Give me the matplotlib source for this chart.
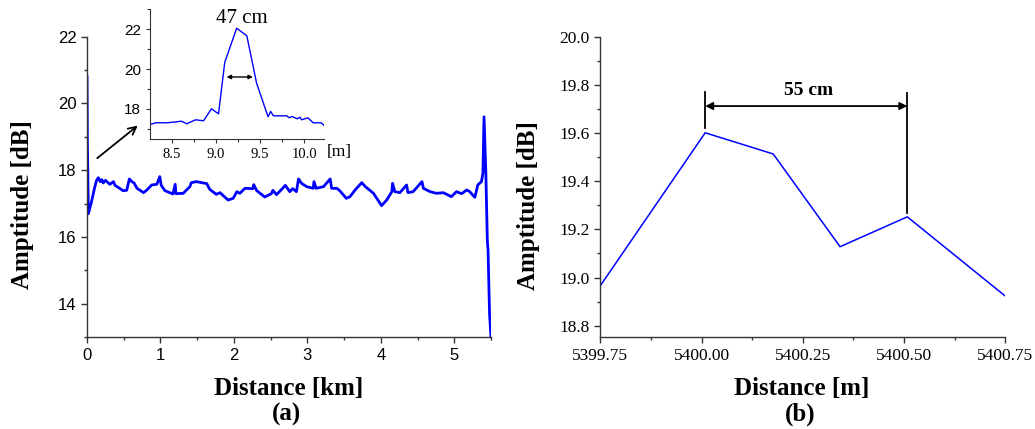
import matplotlib
matplotlib.use("Agg")
import matplotlib.pyplot as plt
from matplotlib.ticker import MultipleLocator

# ---- datos
# (a) traza completa, distancia [km] vs amplitud [dB]
dist_km = [0.000, 0.004, 0.018, 0.06, 0.10, 0.13, 0.154, 0.18, 0.20, 0.22, 0.25, 0.27, 0.31, 0.36, 0.38,
           0.43, 0.49, 0.54, 0.576, 0.61, 0.64, 0.68, 0.77, 0.81, 0.88, 0.95, 0.99, 1.01,
           1.06, 1.17, 1.20, 1.21, 1.31, 1.40, 1.42, 1.49, 1.56, 1.63, 1.67, 1.76,
           1.81, 1.92, 1.99, 2.04, 2.08, 2.15, 2.26, 2.27, 2.31, 2.42, 2.51, 2.53,
           2.58, 2.65, 2.70, 2.76, 2.80, 2.85, 2.88, 2.92, 2.99, 3.08, 3.09, 3.12,
           3.22, 3.31, 3.33, 3.40, 3.44, 3.53, 3.58, 3.65, 3.74, 3.79, 3.90, 4.01,
           4.08, 4.15, 4.16, 4.19, 4.26, 4.35, 4.37, 4.44, 4.56, 4.58, 4.67, 4.76,
           4.85, 4.96, 5.03, 5.10, 5.17, 5.21, 5.28, 5.32, 5.37, 5.39, 5.405, 5.43, 5.45,
           5.46, 5.48, 5.50]
amp_db = [20.80, 19.00, 16.70, 17.05, 17.45, 17.70, 17.78, 17.66, 17.72, 17.62, 17.70, 17.66, 17.58, 17.66, 17.55,
          17.48, 17.39, 17.40, 17.74, 17.66, 17.62, 17.46, 17.33, 17.40, 17.56, 17.58, 17.81, 17.55,
          17.39, 17.29, 17.58, 17.30, 17.31, 17.51, 17.63, 17.66, 17.63, 17.60, 17.43, 17.28,
          17.33, 17.11, 17.16, 17.36, 17.31, 17.46, 17.45, 17.57, 17.39, 17.20, 17.30, 17.40,
          17.27, 17.43, 17.55, 17.36, 17.45, 17.36, 17.74, 17.61, 17.51, 17.46, 17.66, 17.46,
          17.51, 17.74, 17.46, 17.46, 17.39, 17.16, 17.21, 17.41, 17.63, 17.51, 17.31, 16.94,
          17.11, 17.36, 17.61, 17.36, 17.33, 17.56, 17.33, 17.36, 17.66, 17.46, 17.36, 17.31,
          17.33, 17.21, 17.36, 17.30, 17.41, 17.36, 17.19, 17.56, 17.66, 17.91, 19.60, 17.90, 15.90,
          15.60, 13.70, 13.00]

# inset: zoom de la primera reflexion, distancia [m]
ins_m = [8.26, 8.32, 8.45, 8.56, 8.61, 8.67, 8.77, 8.86, 8.95, 9.03, 9.10, 9.235, 9.35,
         9.46, 9.59, 9.62, 9.65, 9.80, 9.83, 9.86, 9.92, 9.95, 9.97, 10.04, 10.10, 10.19, 10.23]
ins_db = [17.22, 17.30, 17.30, 17.35, 17.38, 17.25, 17.45, 17.40, 18.00, 17.75, 20.33, 22.05, 21.67,
          19.30, 17.60, 17.87, 17.65, 17.65, 17.55, 17.62, 17.50, 17.58, 17.45, 17.55, 17.30, 17.30, 17.15]

# (b) zoom alrededor de 5400 m
zoom_m = [5399.75, 5400.009, 5400.177, 5400.342, 5400.508, 5400.75]
zoom_db = [18.966, 19.601, 19.513, 19.128, 19.252, 18.923]

BLUE = "#0000ff"
SERIF = ["Liberation Serif", "DejaVu Serif"]
SANS = ["Liberation Sans", "DejaVu Sans"]

fig = plt.figure(figsize=(10.35, 4.29), dpi=100)

def style_axes(ax, size, family, lw=1.0):
    for s in ("top", "right"):
        ax.spines[s].set_visible(False)
    for s in ("left", "bottom"):
        ax.spines[s].set_linewidth(lw)
        ax.spines[s].set_color("#333333")
    ax.tick_params(which="both", direction="out", color="#333333", width=lw)
    ax.tick_params(which="major", length=4, labelsize=size)
    ax.tick_params(which="minor", length=2.5)
    for lab in ax.get_xticklabels() + ax.get_yticklabels():
        lab.set_family(family)

# ---- (a)
ax1 = fig.add_axes([0.0841, 0.2138, 0.3903, 0.7007])
ax1.plot(dist_km, amp_db, color=BLUE, lw=2.0)
ax1.set_xlim(0, 5.5)
ax1.set_ylim(13, 22)
ax1.xaxis.set_major_locator(MultipleLocator(1))
ax1.xaxis.set_minor_locator(MultipleLocator(0.5))
ax1.yaxis.set_major_locator(MultipleLocator(2))
ax1.yaxis.set_minor_locator(MultipleLocator(1))
style_axes(ax1, 12, SANS)
ax1.annotate("", xy=(0.72, 19.39), xytext=(0.109, 18.31),
             arrowprops=dict(arrowstyle="->", color="black", lw=1.3, mutation_scale=14))

fig.text(0.022, 0.522, "Amptitude [dB]", rotation=90, ha="center", va="center",
         family=SERIF, weight="bold", fontsize=18)
fig.text(0.279, 0.095, "Distance [km]", ha="center", va="center",
         family=SERIF, weight="bold", fontsize=18)
fig.text(0.277, 0.035, "(a)", ha="center", va="center",
         family=SERIF, weight="bold", fontsize=18)

# inset
axi = fig.add_axes([0.1452, 0.6767, 0.1681, 0.3016])
axi.plot(ins_m, ins_db, color=BLUE, lw=1.0)
axi.set_xlim(8.258, 10.226)
axi.set_ylim(16.5, 23)
axi.set_xticks([8.5, 9.0, 9.5, 10.0])
axi.xaxis.set_minor_locator(MultipleLocator(0.25))
axi.yaxis.set_major_locator(MultipleLocator(2))
axi.yaxis.set_minor_locator(MultipleLocator(1))
axi.set_xticklabels(["8.5", "9.0", "9.5", "10.0"])
style_axes(axi, 11, SANS, lw=0.8)
for lab in axi.get_xticklabels():
    lab.set_family(SERIF)
    lab.set_fontsize(10.5)
axi.tick_params(which="major", length=3)
axi.tick_params(which="minor", length=2)
axi.patch.set_alpha(0)
axi.annotate("", xy=(9.45, 19.6), xytext=(9.09, 19.6),
             arrowprops=dict(arrowstyle="<|-|>", color="black", lw=1.0, mutation_scale=6))
axi.text(9.29, 22.55, "47 cm", ha="center", va="center", family=SERIF, fontsize=15)
fig.text(0.3155, 0.646, "[m]", ha="left", va="center", family=SERIF, fontsize=12.5)

# ---- (b)
ax2 = fig.add_axes([0.58, 0.2138, 0.3913, 0.7007])
ax2.plot(zoom_m, zoom_db, color=BLUE, lw=1.1)
ax2.set_xlim(5399.75, 5400.75)
ax2.set_ylim(18.752, 20.0)
ax2.xaxis.set_minor_locator(MultipleLocator(0.125))
ax2.yaxis.set_minor_locator(MultipleLocator(0.1))
ax2.set_yticks([18.8, 19.0, 19.2, 19.4, 19.6, 19.8, 20.0])
ax2.set_xticks([5399.75, 5400.0, 5400.25, 5400.5, 5400.75])
ax2.set_xticklabels(["5399.75", "5400.00", "5400.25", "5400.50", "5400.75"])
ax2.set_yticklabels(["18.8", "19.0", "19.2", "19.4", "19.6", "19.8", "20.0"])
style_axes(ax2, 12.5, SERIF)
ax2.plot([zoom_m[1], zoom_m[1]], [19.62, 19.77], color="black", lw=1.3)
ax2.plot([zoom_m[4], zoom_m[4]], [19.267, 19.765], color="black", lw=1.3)
ax2.annotate("", xy=(zoom_m[4], 19.712), xytext=(zoom_m[1], 19.712),
             arrowprops=dict(arrowstyle="<|-|>", color="black", lw=1.3, mutation_scale=11,
                             shrinkA=0, shrinkB=0))
ax2.text(5400.264, 19.775, "55 cm", ha="center", va="center", family=SERIF,
         weight="bold", fontsize=14)

fig.text(0.511, 0.52, "Amptitude [dB]", rotation=90, ha="center", va="center",
         family=SERIF, weight="bold", fontsize=18)
fig.text(0.775, 0.095, "Distance [m]", ha="center", va="center",
         family=SERIF, weight="bold", fontsize=18)
fig.text(0.773, 0.035, "(b)", ha="center", va="center",
         family=SERIF, weight="bold", fontsize=18)

fig.savefig("out.png", dpi=100)
